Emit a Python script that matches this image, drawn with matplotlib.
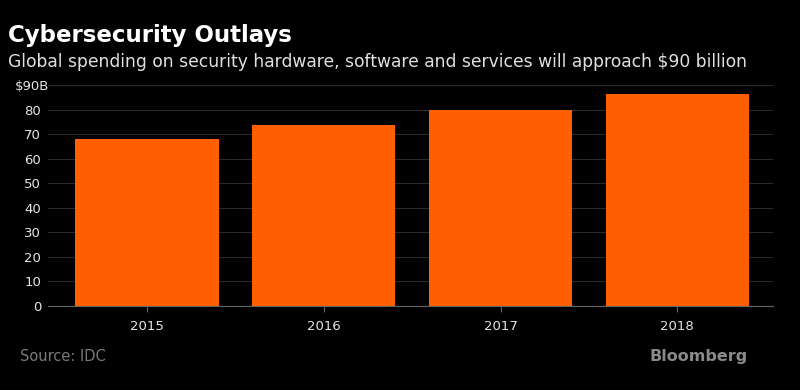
import matplotlib.pyplot as plt
from matplotlib.transforms import ScaledTranslation

years = ['2015', '2016', '2017', '2018']
spending = [68.2, 73.6, 79.8, 86.3]
yticks = [0, 10, 20, 30, 40, 50, 60, 70, 80, 90]
ylabels = ['0', '10', '20', '30', '40', '50', '60', '70', '80', '$90B']

plt.rcParams['font.family'] = ['DejaVu Sans']

fig = plt.figure(figsize=(8, 3.9), dpi=100, facecolor='black')
ax = fig.add_axes([0.06, 0.2154, 0.906, 0.5667], facecolor='black')

ax.bar(range(len(years)), spending, width=0.81, color='#ff5f00', zorder=3)

ax.set_xlim(-0.56, 3.54)
ax.set_ylim(0, 90)
ax.set_xticks(range(len(years)))
ax.set_xticklabels(years)
ax.set_yticks(yticks)
ax.set_yticklabels(ylabels)

ax.grid(axis='y', color='#2a2a2a', linewidth=0.8, zorder=0)
for s in ['top', 'right', 'left']:
    ax.spines[s].set_visible(False)
ax.spines['bottom'].set_color('#666666')
ax.spines['bottom'].set_linewidth(0.8)
ax.tick_params(axis='x', colors='#666666', length=4, labelcolor='#e6e6e6', labelsize=9.5, pad=6)
ax.tick_params(axis='y', length=0, labelcolor='#e6e6e6', labelsize=9.5, pad=5)

# top label sits a bit further right, like the original
top_lab = ax.get_yticklabels()[-1]
top_lab.set_transform(top_lab.get_transform() + ScaledTranslation(0.08, 0, fig.dpi_scale_trans))

fig.text(0.01, 0.91, 'Cybersecurity Outlays', color='white', fontsize=16.5,
         fontweight='bold', va='center')
fig.text(0.01, 0.84, 'Global spending on security hardware, software and services will approach $90 billion',
         color='#e0e0e0', fontsize=12.3, va='center')
fig.text(0.025, 0.085, 'Source: IDC', color='#7a7a7a', fontsize=10.5, va='center')
fig.text(0.935, 0.085, 'Bloomberg', color='#8a8a8a', fontsize=11.5, fontweight='bold',
         va='center', ha='right')

fig.savefig('out.png', dpi=100, facecolor='black')
